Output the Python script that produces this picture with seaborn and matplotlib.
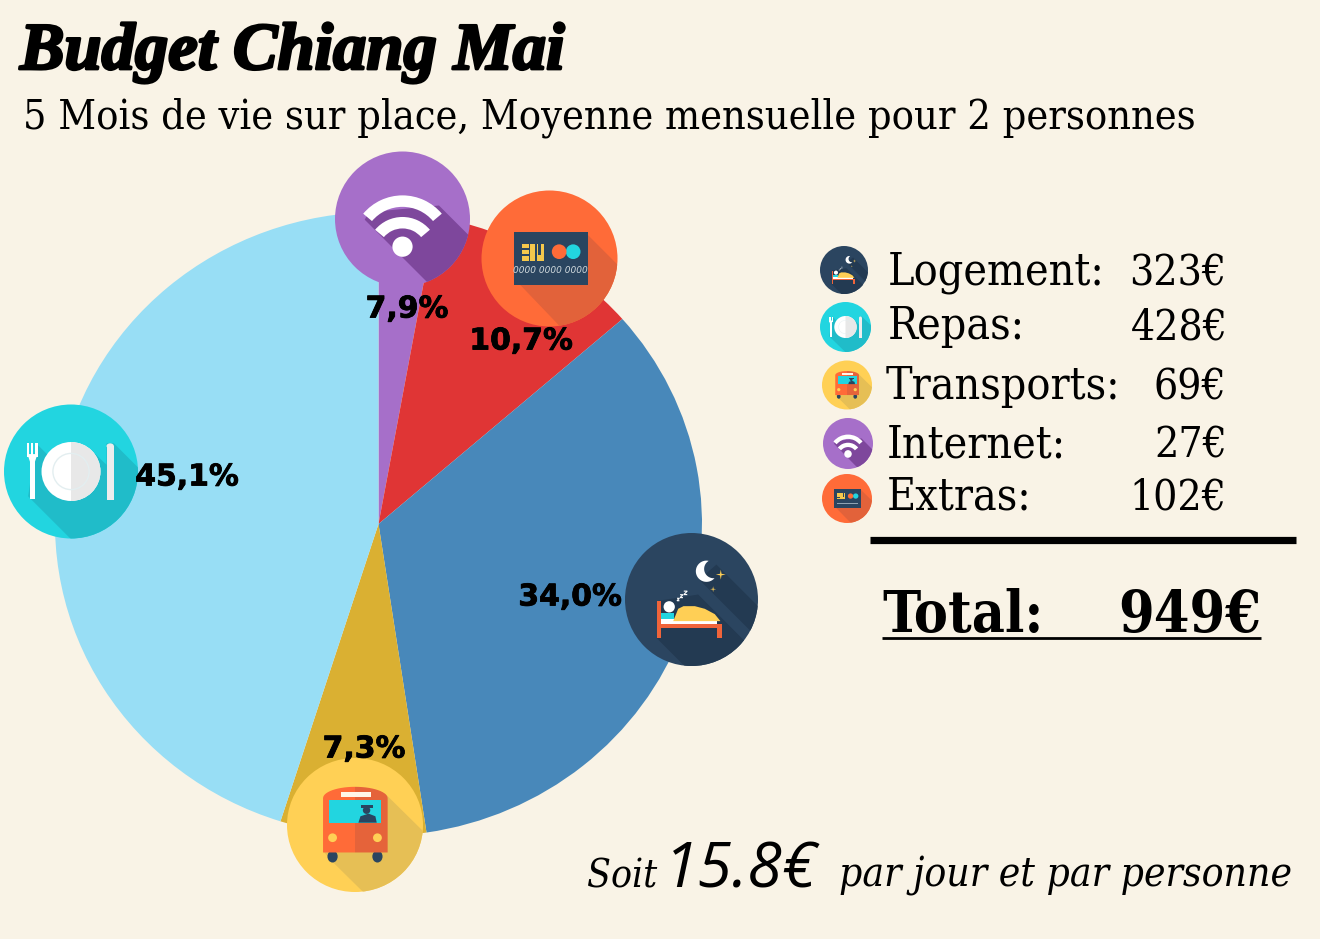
import numpy as np
import matplotlib
matplotlib.use('Agg')
import matplotlib.pyplot as plt
import matplotlib.patheffects as pe
from matplotlib.patches import Circle, Ellipse, Polygon, Rectangle, Wedge
from matplotlib.transforms import Affine2D
import seaborn as sns

# Data
categories = ['Logement', 'Repas', 'Transports', 'Internet', 'Extras']
euros = [323, 428, 69, 27, 102]
total = 949
pie_order = ['Internet', 'Extras', 'Logement', 'Transports', 'Repas']
pie_labels = ['7,9%', '10,7%', '34,0%', '7,3%', '45,1%']
slice_colors = ['#A66FC9', '#E03535', '#4888BA', '#DAB032', '#98DEF5']

BG = '#F9F3E6'
SERIF = 'DejaVu Serif'
NAVY = '#2A4560'

sns.set_theme(style='white', rc={'figure.facecolor': BG, 'savefig.facecolor': BG})

fig = plt.figure(figsize=(13.2, 9.39), dpi=100)

# pie axes, the original is slightly stretched sideways
pie_ax = fig.add_axes([55 / 1320, (939 - 836) / 939, 647 / 1320, 624 / 939])
pie_values = [euros[categories.index(c)] for c in pie_order]
pie_ax.pie(pie_values, startangle=90, counterclock=False,
           colors=sns.color_palette(slice_colors), radius=1, frame=False,
           wedgeprops={'linewidth': 0})
pie_ax.set_aspect('auto')
pie_ax.set_xlim(-1, 1)
pie_ax.set_ylim(-1, 1)
pie_ax.patch.set_alpha(0)

# overlay in pixel coordinates for icons and text
ax = fig.add_axes([0, 0, 1, 1])
ax.set_xlim(0, 1320)
ax.set_ylim(939, 0)
ax.axis('off')
ax.patch.set_alpha(0)


def arc_band(tr, cx, cy, r_out, r_in, color, z):
    ax.add_patch(Wedge((cx, cy), r_out, 40, 140, width=r_out - r_in, color=color, lw=0, transform=tr, zorder=z))


def star(tr, cx, cy, r, z):
    pts = []
    for i in range(8):
        a = i * np.pi / 4
        rr = r if i % 2 == 0 else r * 0.22
        pts.append((cx + rr * np.cos(a), cy + rr * np.sin(a)))
    ax.add_patch(Polygon(pts, color='#FFCF55', lw=0, transform=tr, zorder=z))


def draw_icon(kind, cx, cy, rx, ry=None):
    ry = ry or rx
    tr = Affine2D().scale(rx, -ry).translate(cx, cy) + ax.transData
    base = {'wifi': '#A66FC9', 'card': '#FF6B38', 'plate': '#22D5E0', 'bed': '#2B4560', 'bus': '#FFD055'}[kind]
    shade = {'wifi': '#7E479C', 'card': '#E2623A', 'plate': '#20BCC9', 'bed': '#233A52', 'bus': '#E6BF55'}[kind]
    disc = Circle((0, 0), 1, color=base, lw=0, transform=tr, zorder=5)
    ax.add_patch(disc)

    def shadow(pts):
        p = Polygon(pts, color=shade, lw=0, transform=tr, zorder=6)
        ax.add_patch(p)
        p.set_clip_path(Circle((0, 0), 1, transform=tr))

    def add(p):
        p.set_transform(tr)
        p.set_zorder(7)
        ax.add_patch(p)

    if kind == 'wifi':
        shadow([(.54, .2), (1.6, -.86), (1.6, -1.6), (1.03, -1.6), (-.56, -.01), (-.5, .1)])
        arc_band(tr, 0, -.41, .76, .59, 'white', 7)
        arc_band(tr, 0, -.5, .53, .36, 'white', 7)
        add(Circle((0, -.41), .15, color='white', lw=0))
    elif kind == 'card':
        shadow([(.56, .35), (1.6, -.69), (1.6, -1.6), (.73, -1.6), (-.515, -.3)])
        add(Rectangle((-.515, -.39), 1.075, .78, color=NAVY, lw=0))
        for by in (.15, .06, -.03):
            add(Rectangle((-.4, by), .1, .07, color='#F5C84C', lw=0))
        add(Rectangle((-.28, -.03), .07, .25, color='#F5C84C', lw=0))
        add(Rectangle((-.19, -.03), .107, .25, color='#F5C84C', lw=0))
        add(Rectangle((-.165, .05), .045, .17, color=NAVY, lw=0))
        add(Circle((.348, .1), .108, color='#22D5E0', lw=0))
        add(Circle((.142, .1), .108, color='#FF6B38', lw=0))
        if rx > 40:
            ax.text(cx + .02 * rx, cy + .18 * ry, '0000 0000 0000', fontsize=6.5, style='italic',
                    color='#CFD8DC', ha='center', va='center', zorder=8)
        else:
            add(Rectangle((-.42, -.22), .84, .05, color='#8FA3B3', lw=0))
    elif kind == 'plate':
        shadow([(-.52, .42), (-.3, .2), (0, .44), (.31, .31), (.53, .1), (.53, .42), (.64, .42),
                (1.6, -.54), (1.6, -1.6), (.59, -1.6), (-.64, -.37)])
        add(Circle((0, 0), .44, color='white', lw=0))
        half = Wedge((0, 0), .44, -90, 90, color='#E8E8E8', lw=0)
        add(half)
        add(Circle((0, 0), .27, fill=False, ec='#E3EEF0', lw=1 if rx > 40 else .3))
        # fork
        add(Rectangle((-.61, -.41), .07, .6, color='white', lw=0))
        add(Polygon([(-.65, .26), (-.5, .26), (-.54, .14), (-.61, .14)], color='white', lw=0))
        for fx in (-.65, -.59, -.53):
            add(Rectangle((fx, .22), .03, .2, color='white', lw=0))
        # knife
        add(Rectangle((.53, -.42), .11, .8, color='#EDEDED', lw=0))
        add(Ellipse((.585, .38), .11, .08, color='#EDEDED', lw=0))
    elif kind == 'bed':
        shadow([(.375, .525), (1.6, -.7), (1.6, -1.185), (.875, -.46), (.115, .3)])
        shadow([(.1, .075), (1.6, -1.425), (1.6, -1.6), (.495, -1.6), (-.52, -.585), (-.5, -.02)])
        # moon as a crescent, not a cut-out, because the shadow runs behind it
        outer = np.radians(np.linspace(75, 320, 30))
        inner = np.radians(np.linspace(277, 118, 30))
        moon = [(.225 + .16 * np.cos(a), .425 + .16 * np.sin(a)) for a in outer]
        moon += [(.33 + .14 * np.cos(a), .46 + .14 * np.sin(a)) for a in inner]
        add(Polygon(moon, color='white', lw=0))
        star(tr, .44, .375, .075, 7)
        star(tr, .325, .155, .045, 7)
        # zzz
        for zx, zy, zs in ((-.2, .0, .018), (-.15, .05, .022), (-.09, .1, .026)):
            add(Polygon([(zx - zs, zy + zs), (zx + zs, zy + zs), (zx - zs, zy - zs), (zx + zs, zy - zs)],
                        closed=False, fill=False, ec='white', lw=.8 if rx > 40 else .2))
        # bed
        add(Rectangle((-.465, -.365), .85, .075, color='white', lw=0))
        add(Rectangle((-.465, -.29), .2, .085, color='#22D5E0', lw=0))
        add(Polygon([(-.275, -.325), (-.2, -.14), (-.12, -.1), (.05, -.1), (.2, -.14), (.35, -.22), (.435, -.325)],
                    color='#FFCF55', lw=0))
        add(Circle((-.335, -.11), .085, color='white', lw=0))
        add(Rectangle((-.52, -.585), .055, .56, color='#F0643A', lw=0))
        add(Rectangle((.39, -.585), .065, .21, color='#F0643A', lw=0))
        add(Rectangle((-.52, -.435), .975, .07, color='#F0643A', lw=0))
    elif kind == 'bus':
        shadow([(.44, .47), (1.6, -.69), (1.6, -1.6), (.72, -1.6), (-.34, -.54), (-.46, -.4)])
        for wx in (-.33, .33):
            add(Ellipse((wx, -.47), .15, .18, color=NAVY, lw=0))
        th = np.linspace(0, np.pi / 2, 15)
        left = [(0, -.41), (-.47, -.41)] + [(-.47 * np.cos(t), .4 + .17 * np.sin(t)) for t in th]
        right = [(0, -.41), (.48, -.41)] + [(.48 * np.cos(t), .4 + .17 * np.sin(t)) for t in th]
        add(Polygon(left, color='#FF6B38', lw=0))
        add(Polygon(right, color='#E5633A', lw=0))
        add(Rectangle((-.38, .035), .76, .335, color='#22D5E0', lw=0))
        add(Rectangle((-.21, .42), .44, .07, color='#FFF7E8', lw=0))
        add(Circle((-.33, -.19), .065, color='#FFD055', lw=0))
        add(Circle((.33, -.19), .065, color='#FFD055', lw=0))
        # driver
        add(Polygon([(.05, .035), (.08, .13), (.2, .17), (.3, .13), (.32, .035)], color=NAVY, lw=0))
        add(Circle((.17, .22), .055, color=NAVY, lw=0))
        add(Rectangle((.09, .25), .17, .05, color=NAVY, lw=0))


# big icons on the pie
draw_icon('wifi', 402.5, 219, 67.5)
draw_icon('card', 549.5, 258.5, 68)
draw_icon('plate', 71, 471.5, 67)
draw_icon('bed', 691.5, 599.5, 66.5)
draw_icon('bus', 355, 825, 68, 67)

# legend icons
draw_icon('bed', 844, 270, 24)
draw_icon('plate', 845.5, 327, 25.5, 25)
draw_icon('bus', 847, 385, 25, 24.5)
draw_icon('wifi', 848, 443.5, 25, 25.5)
draw_icon('card', 847, 498.5, 25, 24.5)

# percent labels
label_pos = [(407, 309), (521, 341), (570, 597), (364, 749), (187, 477)]
for (lx, ly), txt in zip(label_pos, pie_labels):
    ax.text(lx, ly, txt, fontsize=21.5, fontweight='bold', family='DejaVu Sans',
            color='black', ha='center', va='center', zorder=9,
            path_effects=[pe.withStroke(linewidth=.6, foreground='black')])

# title and subtitle
ax.text(20, 69, 'Budget Chiang Mai', fontsize=48, family='Liberation Serif', fontweight='bold',
        style='italic', color='black', va='baseline', zorder=9,
        path_effects=[pe.withStroke(linewidth=2, foreground='black')])
ax.text(23, 128, '5 Mois de vie sur place, Moyenne mensuelle pour 2 personnes', fontsize=29.6,
        family=SERIF, stretch='condensed', color='black', va='baseline', zorder=9)

# legend text
label_x = [888, 888, 886, 887, 887]
value_x = [1226, 1228, 1226, 1227, 1226]
base_y = [285, 339, 399, 457, 509]
for i, c in enumerate(categories):
    ax.text(label_x[i], base_y[i], c + ':', fontsize=32, family=SERIF, stretch='condensed',
            va='baseline', color='black')
    ax.text(value_x[i], base_y[i], f'{euros[i]}€', fontsize=30.5, family=SERIF, stretch='condensed',
            ha='right', va='baseline', color='black')

ax.plot([870, 1296], [540, 540], color='black', lw=5.2, solid_capstyle='butt')

ax.text(882, 632, 'Total:', fontsize=41, fontweight='bold', family=SERIF, stretch='condensed',
        va='baseline', color='black')
ax.text(1261, 632, f'{total}€', fontsize=41, fontweight='bold', family=SERIF, stretch='condensed',
        ha='right', va='baseline', color='black')
ax.plot([882, 1261], [638, 638], color='black', lw=2, solid_capstyle='butt')

# per day line
ax.text(587, 887, 'Soit', fontsize=28, style='italic', family=SERIF, stretch='condensed',
        va='baseline', color='black')
ax.text(664, 887, '15.8€', fontsize=45, style='italic', family='Open Sans', va='baseline', color='black')
ax.text(1292, 887, 'par jour et par personne', fontsize=29.2, style='italic', family=SERIF,
        stretch='condensed', ha='right', va='baseline', color='black')

fig.savefig('out.png', dpi=100)
